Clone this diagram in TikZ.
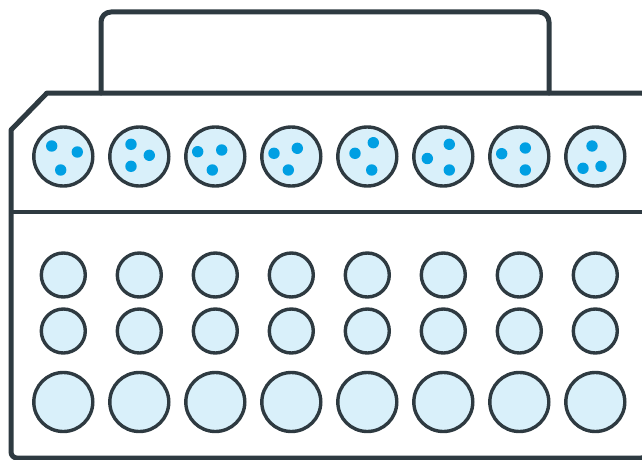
\documentclass[tikz,border=0pt]{standalone}
\definecolor{edge}{HTML}{2E3A41}
\definecolor{well}{HTML}{D9F0FA}
\definecolor{dotc}{HTML}{009FE3}
\begin{document}
\begin{tikzpicture}[x=1pt,y=-1pt,
  outline/.style={draw=edge,line width=5pt,line join=round,line cap=round},
  wellc/.style={draw=edge,fill=well,line width=3.4pt},
  dotm/.style={fill=dotc}]
\useasboundingbox (0,0) rectangle (642,460);
\clip (0,0) rectangle (642,460);
% handle
\draw[outline,rounded corners=10pt] (101,93) -- (101,12) -- (549,12) -- (549,93);
% body
\draw[outline] (47,93) [rounded corners=6pt]-- (647,93) -- (647,458) -- (11,458) [sharp corners]-- (11,130) -- cycle;
\draw[outline,line width=4.5pt,line cap=butt] (11,212) -- (647,212);
% wells
\foreach \i in {0,...,7} {
  \pgfmathsetmacro{\cx}{63.3+76*\i}
  \draw[wellc] (\cx,156.5) circle (29.5);
  \draw[wellc] (\cx,275) circle (22);
  \draw[wellc] (\cx,331) circle (22);
  \draw[wellc] (\cx,402) circle (29.5);
}
\foreach \p in {(51.7,146),(77.3,152),(60.7,170),
  (131,144.3),(149.3,155.3),(131,166.3),
  (197.7,151.7),(221.7,150),(212.3,170),
  (274,153.3),(297.3,148.3),(288.3,170),
  (355,153.3),(373.3,142.7),(371.7,170),
  (427.3,158.5),(449.3,144.3),(449.3,170),
  (501.7,153.7),(525.3,148),(525.3,170),
  (592,146),(583,168.3),(601,166.3)}
  \fill[dotm] \p circle (5.7);
\end{tikzpicture}
\end{document}
